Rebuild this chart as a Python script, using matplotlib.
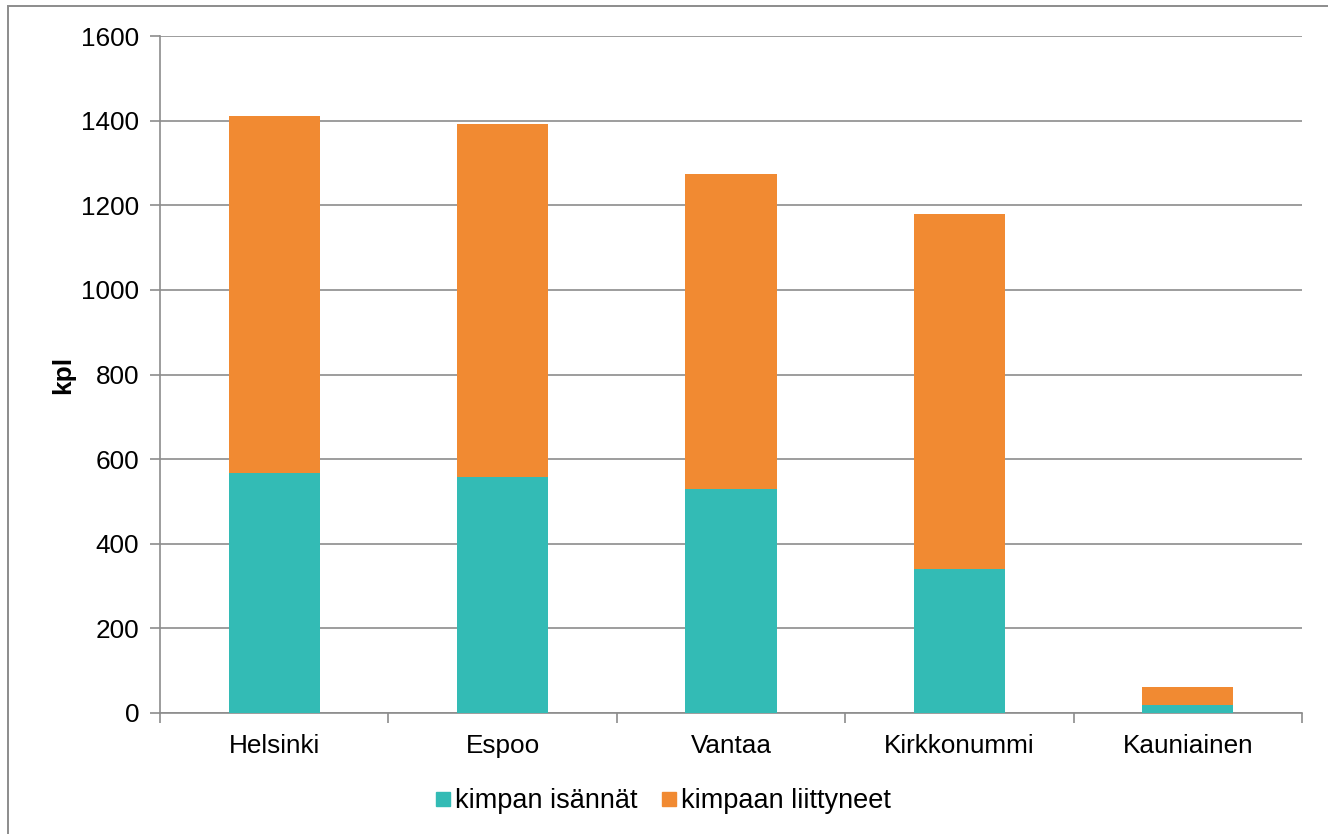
import matplotlib
matplotlib.use("Agg")
import matplotlib.pyplot as plt
from matplotlib.lines import Line2D
import numpy as np

plt.rcParams['font.family'] = ['Liberation Sans', 'DejaVu Sans']

categories = ["Helsinki", "Espoo", "Vantaa", "Kirkkonummi", "Kauniainen"]
hosts = [567, 558, 530, 340, 19]
joined = [845, 834, 743, 840, 42]
series_names = ["kimpan isännät", "kimpaan liittyneet"]
yticks = [0, 200, 400, 600, 800, 1000, 1200, 1400, 1600]

W, H = 1328, 834
fig = plt.figure(figsize=(W / 100, H / 100), dpi=100)
ax = fig.add_axes([160 / W, 1 - 713 / H, (1302 - 160) / W, (713 - 36) / H])

x = np.arange(len(categories))
teal = "#33BBB5"
orange = "#F18A32"
ax.bar(x, hosts, width=0.4, color=teal, zorder=3)
ax.bar(x, joined, bottom=hosts, width=0.4, color=orange, zorder=3)

FS = 18.8
ax.set_xlim(-0.5, len(categories) - 0.5)
ax.set_ylim(0, 1600)
ax.set_yticks(yticks)
ax.set_yticklabels([str(v) for v in yticks], fontsize=FS)
ax.yaxis.grid(True, color="#8C8C8C", linewidth=1.2, zorder=0)
ax.set_axisbelow(True)

ax.set_xticks(x)
ax.set_xticklabels(categories, fontsize=FS)
ax.tick_params(axis='x', which='major', length=0, pad=15)
ax.set_xticks(np.arange(-0.5, len(categories)), minor=True)
ax.tick_params(axis='x', which='minor', length=7, color="#8C8C8C", width=1.2)
ax.tick_params(axis='y', length=7, color="#8C8C8C", width=1.2, pad=8)

for s in ["top", "right"]:
    ax.spines[s].set_visible(False)
for s in ["left", "bottom"]:
    ax.spines[s].set_color("#8C8C8C")
    ax.spines[s].set_linewidth(1.2)

ax.set_ylabel("kpl", fontsize=FS, fontweight="bold", labelpad=4)

handles = [Line2D([], [], marker='s', linestyle='none', markersize=9.5,
                  markerfacecolor=c, markeredgecolor=c) for c in (teal, orange)]
fig.legend(handles, series_names, loc='center', bbox_to_anchor=(661 / W, 1 - 801 / H),
           ncol=2, frameon=False, fontsize=19.5, handletextpad=0.0,
           columnspacing=0.7, handlelength=0.9)

# outer border (top and left visible; right and bottom lie outside the image)
border = plt.Rectangle((8 / W, -0.05), 1.1, 1 - 6 / H + 0.05,
                       transform=fig.transFigure, fill=False,
                       edgecolor="#8C8C8C", linewidth=1.4)
fig.add_artist(border)

fig.savefig("out.png", dpi=100)
